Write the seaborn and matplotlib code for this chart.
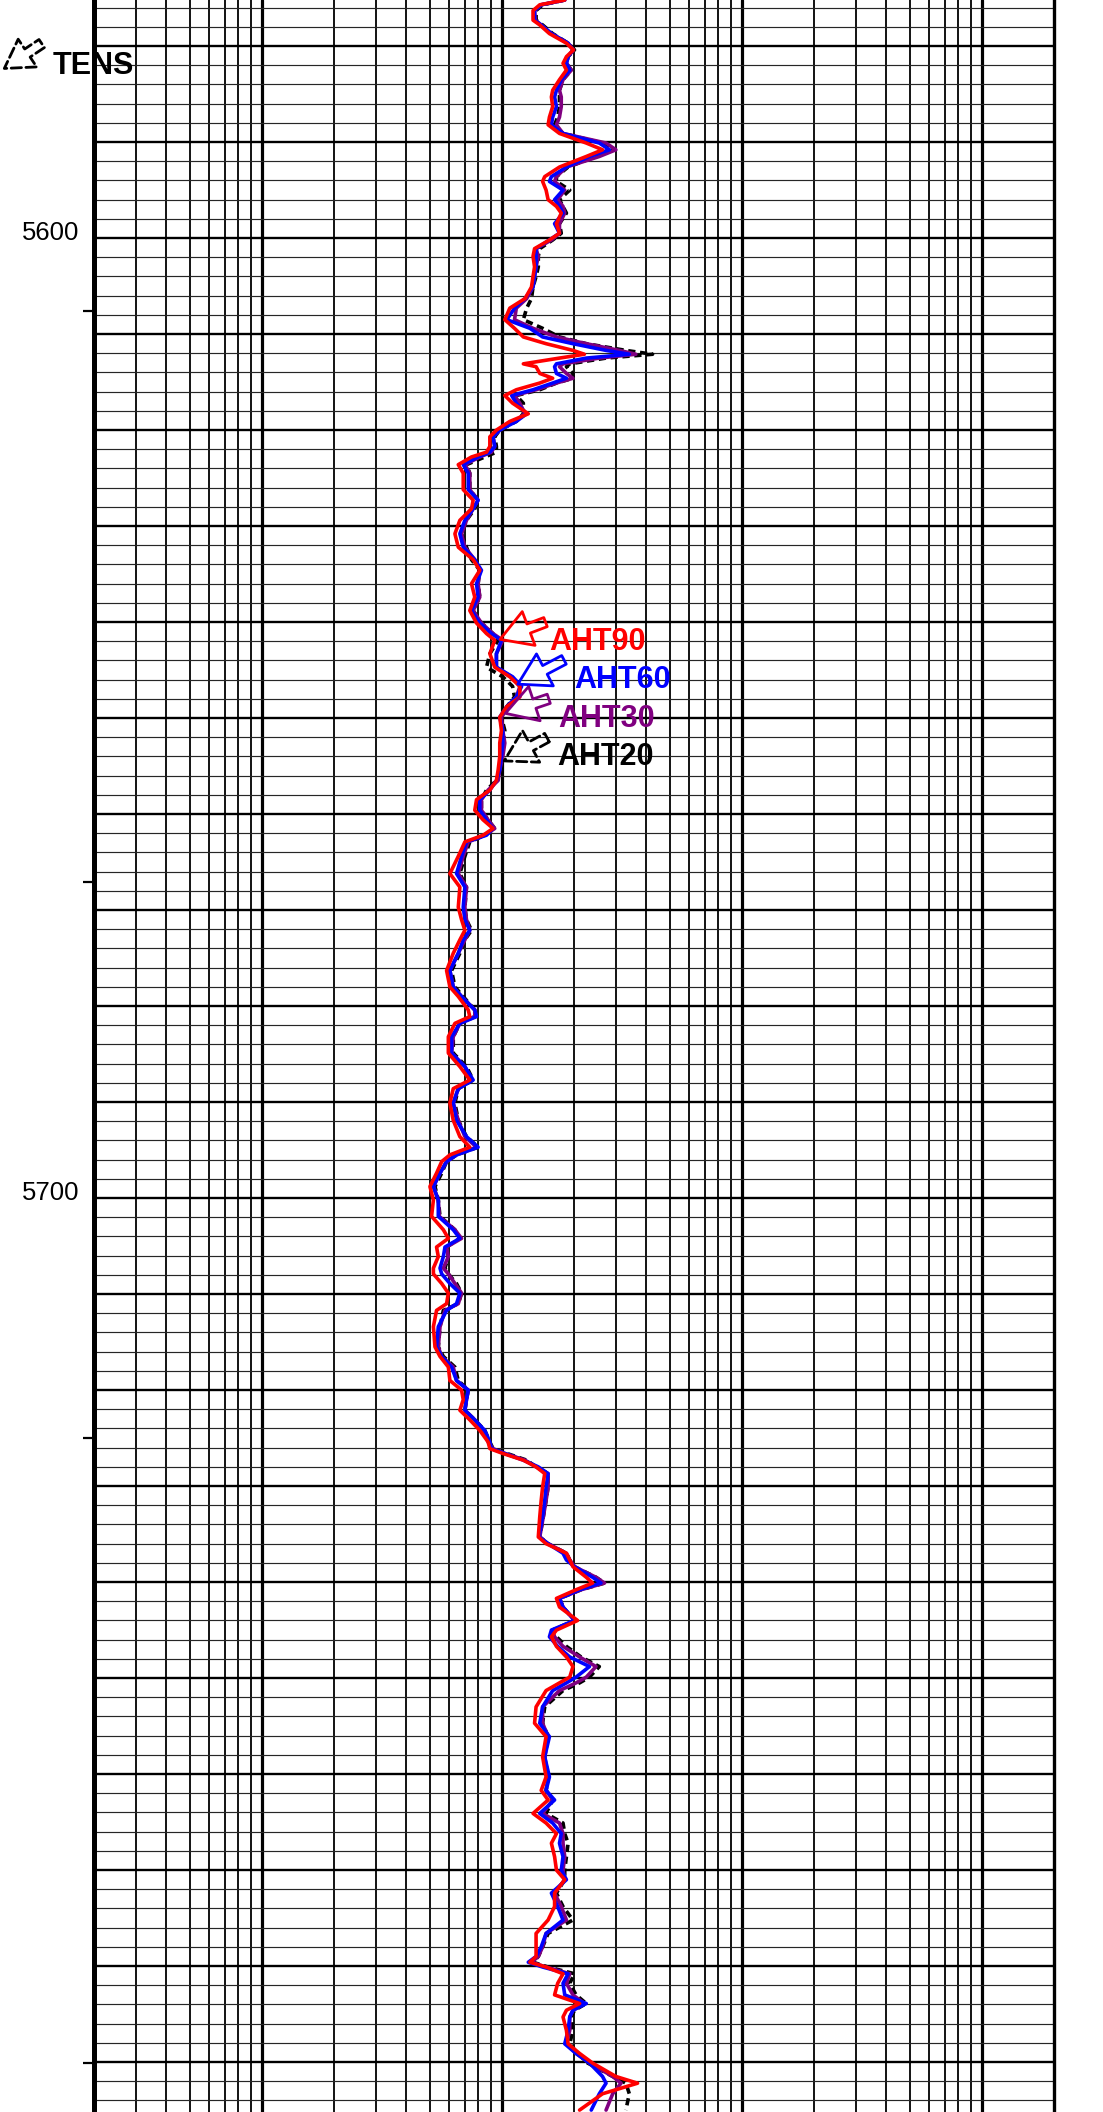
import matplotlib
matplotlib.use("Agg")
import matplotlib.pyplot as plt
import numpy as np
import pandas as pd
import seaborn as sns
from matplotlib.patches import FancyArrowPatch
from matplotlib.ticker import NullLocator
from matplotlib.transforms import blended_transform_factory

# ---- log data: measured depth (ft) and array-induction resistivities (ohm-m) ----
DEPTH = [
    5575.2, 5575.7, 5576.3, 5577.3, 5577.8, 5578.7, 5579.7, 5580.4, 5581.1, 5581.8,
    5582.5, 5583.5, 5584.6, 5585.3, 5586.3, 5587.4, 5588.2, 5589.1, 5590.1, 5590.8,
    5591.5, 5592.6, 5593.6, 5594.1, 5595.0, 5596.0, 5596.7, 5597.4, 5598.5, 5599.5,
    5600.2, 5601.1, 5601.9, 5603.0, 5604.0, 5605.1, 5606.3, 5607.3, 5608.5, 5609.4,
    5610.3, 5611.0, 5611.7, 5612.1, 5612.5, 5613.1, 5613.4, 5614.1, 5614.6, 5615.1,
    5615.8, 5616.4, 5617.2, 5618.3, 5619.1,
    5620.0, 5620.7, 5621.7, 5622.3, 5622.8, 5623.6, 5624.5, 5626.2, 5627.3, 5628.2,
    5629.4, 5630.8, 5632.2, 5633.5, 5634.6, 5636.0, 5637.4, 5638.8, 5640.1, 5641.2,
    5641.9, 5643.3, 5644.7, 5645.7, 5646.7, 5647.8, 5648.8, 5649.9, 5651.3, 5652.6,
    5654.0, 5655.4, 5656.5, 5657.5, 5658.5, 5659.6, 5660.6, 5661.5, 5662.2,
    5662.9, 5664.4, 5666.2, 5667.6, 5669.7, 5671.0, 5672.1, 5673.1, 5674.5, 5676.3,
    5678.0, 5679.0, 5680.4, 5681.1, 5681.8, 5683.2, 5684.9, 5686.3, 5687.7, 5688.6,
    5690.1, 5691.9, 5693.6, 5694.7, 5695.5, 5696.2, 5697.4, 5698.8, 5700.2, 5701.9,
    5703.3, 5704.2, 5705.1, 5706.1,
    5707.3, 5707.9, 5708.9, 5709.9, 5711.0, 5711.7, 5713.4, 5715.5, 5716.5, 5717.6,
    5719.0, 5720.0, 5721.0, 5722.1, 5723.1, 5724.2, 5725.4, 5726.1, 5726.6, 5727.3,
    5728.0, 5728.7, 5730.1, 5731.5, 5733.2, 5735.3, 5736.0, 5737.0, 5737.7, 5738.4,
    5739.5, 5740.1, 5740.8, 5741.7, 5742.6, 5744.0, 5745.0, 5745.7, 5746.7, 5747.8,
    5748.8, 5749.9,
    5750.5, 5751.3, 5753.0, 5754.7, 5756.1, 5758.2, 5760.3, 5761.7, 5762.7, 5764.1,
    5765.1, 5766.2, 5767.2, 5768.6, 5770.0, 5771.0, 5772.4, 5773.8, 5775.2, 5776.6,
    5778.0, 5779.0, 5779.6, 5780.1, 5780.8, 5781.8, 5783.0, 5783.9, 5784.6, 5785.3,
    5786.7, 5788.1, 5789.1, 5790.1, 5791.5, 5792.2, 5793.3, 5795.0,
]

AHT90 = [
    18.3, 14.4, 13.5, 13.5, 14.4, 15.8, 18.6, 19.9, 18.6, 18.0,
    18.6, 17.4, 16.3, 16.1, 16.3, 15.8, 15.6, 17.4, 22.5, 26.3,
    22.5, 17.4, 15.1, 14.8, 15.3, 15.6, 16.9, 17.7, 16.9, 17.4,
    15.8, 13.7, 13.5, 13.7, 13.5, 13.3, 12.5, 10.8, 10.3, 11.3,
    12.3, 15.3, 19.8, 22.1, 17.4, 12.3, 13.9, 14.4, 16.3, 14.4,
    11.5, 10.3, 11.1, 12.9, 10.8,
    9.50, 8.92, 8.92, 8.64, 7.48, 6.59, 6.91, 6.91, 7.60, 7.48,
    6.69, 6.38, 6.59, 7.60, 8.10, 7.48, 7.72, 7.36, 7.85, 8.64,
    9.35, 8.92, 9.35, 10.8, 11.9, 11.9, 10.5, 9.81, 9.97, 9.81,
    9.81, 9.66, 9.50, 8.92, 7.85, 7.72, 8.36, 9.20, 8.36,
    7.02, 6.59, 6.08, 6.69, 6.59, 6.80, 7.02, 6.69, 6.28, 5.89,
    6.08, 6.59, 7.25, 7.36, 6.38, 5.99, 5.99, 6.69, 7.36, 6.28,
    6.08, 6.28, 6.69, 7.36, 6.08, 5.62, 5.35, 5.02, 5.19, 5.10,
    5.71, 5.99, 5.35, 5.44,
    5.19, 5.19, 5.62, 5.99, 5.89, 5.35, 5.19, 5.27, 5.53, 5.99,
    6.08, 6.80, 6.91, 6.69, 7.36, 8.10, 8.77, 8.92, 10.1, 12.3,
    13.9, 15.1, 14.8, 14.6, 14.4, 14.2, 15.3, 18.6, 19.2, 19.8,
    22.5, 23.9, 20.4, 16.9, 17.4, 20.7, 16.9, 16.1, 16.9, 18.6,
    19.8, 19.2,
    17.4, 15.3, 13.9, 13.7, 15.3, 14.8, 15.3, 14.6, 15.6, 13.5,
    15.3, 16.9, 16.1, 16.6, 16.9, 18.3, 16.6, 16.6, 15.6, 13.9,
    13.9, 13.9, 13.1, 15.3, 18.0, 17.1, 16.6, 21.1, 18.6, 18.0,
    18.6, 18.9, 21.1, 23.9, 29.9, 36.8, 26.3, 21.1,
]

AHT60 = [
    18.3, 14.6, 13.7, 13.7, 14.6, 16.1, 18.9, 19.8, 18.9, 18.6,
    19.2, 17.7, 16.9, 16.6, 16.9, 16.3, 16.1, 18.0, 25.5, 28.1,
    23.2, 18.6, 16.1, 15.8, 18.0, 16.6, 17.4, 18.0, 16.6, 17.4,
    15.8, 13.9, 13.9, 13.9, 13.7, 13.5, 12.5, 11.3, 10.5, 13.1,
    14.8, 19.8, 27.2, 34.0, 22.5, 16.9, 16.6, 16.9, 18.6, 16.3,
    13.5, 11.0, 11.5, 12.7, 11.5,
    9.81, 9.20, 9.35, 8.92, 7.97, 6.91, 7.25, 7.25, 7.97, 7.60,
    7.02, 6.69, 6.91, 7.72, 8.23, 7.85, 7.97, 7.48, 8.10, 9.06,
    9.97, 9.50, 9.50, 11.1, 12.1, 11.5, 10.5, 9.81, 10.1, 10.1,
    9.97, 9.81, 9.50, 8.92, 8.10, 8.10, 8.64, 9.20, 8.64,
    7.13, 6.80, 6.48, 7.02, 6.91, 7.02, 7.36, 6.91, 6.59, 6.08,
    6.28, 6.80, 7.72, 7.85, 6.69, 6.18, 6.18, 7.02, 7.60, 6.59,
    6.28, 6.48, 7.13, 7.97, 6.48, 5.89, 5.53, 5.19, 5.44, 5.44,
    6.28, 6.69, 5.80, 5.71,
    5.53, 5.62, 6.08, 6.69, 6.48, 5.89, 5.44, 5.35, 5.62, 6.18,
    6.48, 7.25, 7.13, 7.02, 7.72, 8.50, 8.92, 9.06, 10.3, 12.3,
    14.2, 15.6, 15.3, 15.1, 14.8, 14.3, 15.6, 18.0, 18.6, 20.1,
    23.9, 25.9, 21.1, 17.4, 18.0, 20.1, 16.1, 15.8, 17.1, 19.2,
    23.2, 20.4,
    18.6, 16.3, 14.8, 14.4, 15.8, 15.1, 15.8, 15.3, 16.6, 14.4,
    16.3, 17.7, 17.4, 18.0, 17.7, 18.6, 16.1, 17.1, 18.0, 15.3,
    14.6, 13.9, 12.9, 14.8, 18.9, 18.0, 18.3, 22.5, 19.8, 19.2,
    18.9, 18.3, 20.4, 23.2, 26.3, 27.2, 25.5, 23.6,
]

AHT30 = [
    18.3, 14.6, 13.7, 13.8, 14.6, 16.1, 18.9, 19.9, 18.9, 18.6,
    19.5, 18.0, 17.4, 17.7, 17.7, 17.4, 16.9, 18.0, 27.2, 29.9,
    25.5, 18.6, 16.9, 16.6, 18.3, 17.1, 18.0, 18.3, 17.4, 17.4,
    16.1, 13.9, 14.2, 13.9, 13.7, 13.5, 12.7, 11.5, 11.3, 13.5,
    16.9, 22.5, 30.9, 36.2, 25.5, 18.0, 17.4, 18.6, 19.8, 16.9,
    13.9, 11.3, 11.9, 12.5, 11.3,
    9.81, 9.20, 9.35, 9.06, 8.10, 7.02, 7.36, 7.36, 7.97, 7.60,
    7.13, 6.80, 7.02, 7.72, 8.10, 7.97, 8.10, 7.60, 8.23, 9.20,
    10.1, 9.50, 9.50, 11.0, 11.9, 11.5, 10.6, 9.97, 10.1, 10.3,
    10.1, 9.81, 9.66, 8.77, 8.23, 8.23, 8.77, 9.35, 8.50,
    7.25, 6.91, 6.59, 7.13, 7.02, 7.13, 7.36, 7.02, 6.59, 6.08,
    6.28, 6.80, 7.72, 7.72, 6.69, 6.28, 6.18, 7.02, 7.48, 6.59,
    6.28, 6.59, 7.02, 7.85, 6.48, 5.89, 5.53, 5.19, 5.44, 5.49,
    6.38, 6.80, 5.89, 5.99,
    5.71, 5.99, 6.38, 6.80, 6.59, 5.80, 5.53, 5.44, 5.62, 6.28,
    6.48, 7.25, 7.13, 7.02, 7.72, 8.36, 8.77, 9.20, 10.3, 12.5,
    13.9, 15.6, 15.6, 15.3, 14.9, 14.4, 15.6, 18.6, 19.2, 20.1,
    24.7, 26.8, 21.4, 17.4, 18.0, 20.1, 16.3, 16.6, 18.0, 21.1,
    24.7, 22.5,
    20.4, 17.4, 14.8, 14.8, 15.6, 15.1, 15.6, 15.3, 16.3, 14.8,
    17.4, 18.0, 18.0, 18.3, 18.0, 18.3, 16.6, 17.7, 18.6, 15.3,
    14.8, 14.2, 13.3, 15.3, 19.2, 18.6, 19.8, 22.1, 19.8, 19.2,
    19.2, 18.6, 20.4, 23.2, 29.0, 31.4, 29.0, 27.2,
]

AHT20 = [
    18.3, 14.8, 13.9, 13.9, 14.8, 16.3, 18.9, 20.1, 18.9, 18.6,
    19.5, 18.0, 17.4, 17.4, 17.4, 17.1, 16.6, 18.0, 26.3, 29.0,
    24.7, 18.9, 16.9, 16.9, 19.2, 17.4, 18.0, 18.6, 17.4, 17.7,
    16.3, 14.4, 14.2, 14.2, 13.9, 13.5, 13.3, 12.7, 12.3, 14.8,
    17.4, 22.5, 32.9, 42.5, 27.2, 19.2, 18.6, 19.8, 19.8, 16.9,
    14.4, 11.5, 12.3, 12.3, 11.5,
    9.81, 9.35, 9.50, 9.50, 8.50, 7.13, 7.36, 7.36, 7.97, 7.72,
    7.13, 6.80, 7.13, 7.48, 8.10, 7.97, 8.10, 7.60, 8.23, 9.20,
    9.66, 8.92, 8.64, 10.1, 11.1, 11.3, 10.5, 9.97, 10.3, 10.1,
    9.97, 9.81, 9.50, 8.64, 8.23, 8.23, 8.77, 9.35, 8.50,
    7.36, 7.02, 6.69, 7.13, 7.02, 7.13, 7.48, 7.02, 6.69, 6.18,
    6.38, 6.91, 7.72, 7.72, 6.69, 6.28, 6.28, 7.13, 7.60, 6.59,
    6.38, 6.59, 7.13, 7.97, 6.48, 5.89, 5.62, 5.27, 5.44, 5.53,
    6.38, 6.69, 5.89, 5.99,
    5.80, 5.99, 6.48, 6.80, 6.59, 5.71, 5.53, 5.44, 5.71, 6.38,
    6.59, 7.25, 7.13, 7.02, 7.72, 8.50, 8.92, 9.20, 10.5, 12.7,
    13.9, 15.6, 15.6, 15.3, 14.9, 14.4, 15.6, 18.6, 19.2, 20.1,
    24.7, 26.8, 21.4, 17.4, 18.0, 20.1, 16.3, 16.9, 18.6, 21.4,
    25.5, 23.2,
    21.1, 18.0, 15.1, 14.8, 15.6, 15.1, 15.6, 15.3, 16.3, 15.3,
    18.0, 18.3, 18.9, 18.6, 18.3, 18.3, 16.9, 18.0, 19.8, 15.6,
    14.8, 14.2, 13.5, 15.6, 20.1, 19.2, 20.4, 22.5, 20.1, 19.5,
    19.8, 19.2, 20.7, 22.8, 29.0, 32.9, 34.0, 32.9,
]

CURVES = ["AHT20", "AHT30", "AHT60", "AHT90"]
COLORS = {"AHT20": "#000000", "AHT30": "#800080", "AHT60": "#0000ff", "AHT90": "#ff0000"}
DEPTH_LABELS = [5600, 5700]
TICK_DEPTHS = [5607.6, 5667.1, 5725.0, 5790.1]

sns.set_style("white")
plt.rcParams["font.family"] = ["Liberation Sans", "DejaVu Sans"]

W, H = 1103, 2112
fig = plt.figure(figsize=(W / 100, H / 100), dpi=100)
ax = fig.add_axes([94 / W, 0.0, 960 / W, 1.0])
ax.set_xscale("log")

# long-form table of the four resistivity curves
frames = []
for name, vals in zip(CURVES, [AHT20, AHT30, AHT60, AHT90]):
    frames.append(pd.DataFrame({"depth": DEPTH, "res": vals, "curve": name}))
df = pd.concat(frames, ignore_index=True)

sns.lineplot(
    data=df, x="res", y="depth", hue="curve", hue_order=CURVES, palette=COLORS,
    style="curve", style_order=CURVES,
    dashes={"AHT20": (2.0, 1.3), "AHT30": "", "AHT60": "", "AHT90": ""},
    orient="y", sort=False, estimator=None, lw=2.6, legend=False, ax=ax, zorder=3,
)

ax.set_xlim(0.2, 2000)
ax.set_ylim(5795.2, 5575.2)
ax.set_xlabel("")
ax.set_ylabel("")

# logarithmic chart grid: heavy decades, lighter 2..9 lines
for dec in range(-1, 4):
    for k in range(1, 10):
        v = k * 10.0 ** dec
        if v <= 0.2 or v >= 2000:
            continue
        ax.axvline(v, color="black", lw=2.3 if k == 1 else 1.3, zorder=1)

# depth grid: every 2 ft, heavy every 10 ft
for d in range(5576, 5796, 2):
    if d % 10 == 0:
        ax.axhline(d, color="black", lw=1.7, zorder=1)
    else:
        ax.axhline(d, color="#262626", lw=0.85, zorder=1)

ax.xaxis.set_major_locator(NullLocator())
ax.xaxis.set_minor_locator(NullLocator())
ax.set_yticks(TICK_DEPTHS)
ax.set_yticklabels([])
ax.yaxis.set_minor_locator(NullLocator())
ax.tick_params(axis="y", which="major", left=True, length=8, width=1.6,
               direction="out", color="black")

for side in ("top", "bottom"):
    ax.spines[side].set_visible(False)
ax.spines["left"].set_linewidth(3.6)
ax.spines["left"].set_color("black")
ax.spines["right"].set_linewidth(2.4)
ax.spines["right"].set_color("black")

# depth annotations
trans = blended_transform_factory(ax.transAxes, ax.transData)
for d in DEPTH_LABELS:
    ax.text(-15 / 960, d + 0.2, str(d), transform=trans, ha="right", va="baseline",
            fontsize=18.5, color="black", clip_on=False)

# curve name tags with pointers
tags = [
    ("AHT90", 15.8, 5642.9, (15.6, 5639.9), (9.6, 5641.9)),
    ("AHT60", 20.1, 5646.9, (18.6, 5643.8), (11.4, 5646.6)),
    ("AHT30", 17.2, 5650.9, (16.1, 5647.9), (10.1, 5649.6)),
    ("AHT20", 17.1, 5654.9, (15.8, 5651.9), (10.0, 5654.6)),
]
for name, lx, ly, tail, tip in tags:
    ax.text(lx, ly, name, color=COLORS[name], fontsize=22, fontweight="bold",
            ha="left", va="baseline", zorder=6)
    arrow = FancyArrowPatch(
        tail, tip,
        arrowstyle="simple,head_length=1.1,head_width=1.3,tail_width=0.35",
        mutation_scale=20, fc="none", ec=COLORS[name], lw=2.0,
        ls="--" if name == "AHT20" else "-", zorder=6,
    )
    ax.add_patch(arrow)

# tension curve tag from the neighbouring track
fig.text(53 / W, 1 - 74 / H, "TENS", fontsize=22, fontweight="bold",
         ha="left", va="baseline", color="black")
fig.add_artist(FancyArrowPatch(
    (44 / W, 1 - 42 / H), (2 / W, 1 - 70 / H), transform=fig.transFigure,
    arrowstyle="simple,head_length=1.0,head_width=1.2,tail_width=0.35",
    mutation_scale=20, fc="none", ec="black", lw=2.0, ls="--",
))

fig.savefig("out.png", dpi=100)
